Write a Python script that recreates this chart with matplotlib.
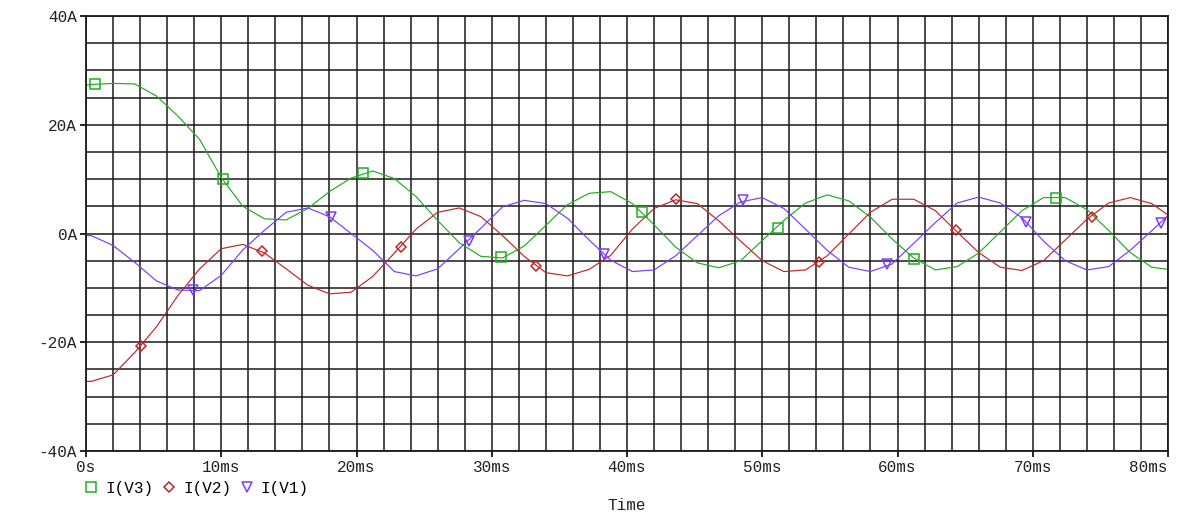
import matplotlib
matplotlib.use("Agg")
import matplotlib.pyplot as plt
from matplotlib.lines import Line2D
from matplotlib.ticker import MultipleLocator

# Data (time in ms, current in A)
time_ms = [0, 0.4, 2.0, 3.6, 5.2, 6.8, 8.4, 10.0, 11.6, 13.2, 14.8, 16.4, 18.0, 19.6,
           21.2, 22.8, 24.4, 26.0, 27.6, 29.2, 30.8, 32.4, 34.0, 35.6, 37.2, 38.8,
           40.4, 42.0, 43.6, 45.2, 46.8, 48.4, 50.0, 51.6, 53.2, 54.8, 56.4, 58.0,
           59.6, 61.2, 62.8, 64.4, 66.0, 67.6, 69.2, 70.8, 72.4, 74.0, 75.6, 77.2,
           78.8, 80.0]

i_v3 = [27.3, 27.4, 27.6, 27.5, 25.3, 21.6, 17.3, 10.3, 5.0, 2.7, 2.5, 4.6, 7.7, 10.2,
        11.5, 10.1, 6.8, 2.4, -1.7, -4.2, -4.5, -2.3, 1.5, 5.3, 7.4, 7.7,
        5.5, 1.6, -2.5, -5.4, -6.3, -5.0, -1.3, 2.4, 5.6, 7.1, 6.0, 3.0,
        -1.0, -4.5, -6.7, -6.1, -3.6, 0.3, 4.2, 6.6, 6.6, 4.4, 0.6, -3.5,
        -6.2, -6.6]

i_v2 = [-27.2, -27.2, -26.0, -21.9, -17.2, -11.4, -6.5, -2.8, -2.0, -3.6, -6.5, -9.5, -11.1, -10.8,
        -7.9, -3.6, 0.8, 3.9, 4.7, 3.1, -0.4, -4.2, -7.2, -7.8, -6.6, -4.0,
        0.8, 4.6, 6.2, 5.5, 2.3, -1.4, -5.0, -7.0, -6.7, -4.1, -0.1, 3.9,
        6.3, 6.3, 4.2, 0.3, -3.5, -6.2, -6.8, -5.0, -1.2, 2.6, 5.6, 6.6,
        5.5, 3.4]

i_v1 = [-0.4, -0.4, -2.2, -5.3, -8.7, -10.4, -10.5, -7.7, -3.0, 0.6, 3.9, 4.7, 3.1, 0.0,
        -3.1, -7.0, -7.8, -6.5, -2.8, 1.0, 4.9, 6.1, 5.5, 2.8, -1.2, -4.9,
        -7.0, -6.7, -4.1, -0.4, 3.3, 5.8, 6.6, 4.6, 0.8, -3.1, -6.2, -7.0,
        -5.6, -1.8, 2.0, 5.6, 6.7, 5.6, 2.9, -1.4, -5.0, -6.7, -6.1, -3.1,
        0.5, 3.3]

# Marker points
mark_t_v3 = [0.7, 10.1, 20.5, 30.7, 41.1, 51.2, 61.2, 71.7]
mark_v3 = [27.5, 10.0, 11.1, -4.4, 3.9, 1.1, -4.6, 6.6]
mark_t_v2 = [4.1, 13.0, 23.3, 33.3, 43.6, 54.2, 64.3, 74.4]
mark_v2 = [-20.7, -3.3, -2.4, -5.9, 6.3, -5.2, 0.7, 3.0]
mark_t_v1 = [7.9, 18.1, 28.3, 38.3, 48.6, 59.2, 69.5, 79.5]
mark_v1 = [-10.3, 3.1, -1.4, -3.7, 6.1, -5.7, 2.2, 2.0]

x_ticks = [0, 10, 20, 30, 40, 50, 60, 70, 80]
x_labels = ["0s", "10ms", "20ms", "30ms", "40ms", "50ms", "60ms", "70ms", "80ms"]
y_ticks = [-40, -20, 0, 20, 40]
y_labels = ["-40A", "-20A", "0A", "20A", "40A"]

green = "#1fae1f"
red = "#c02626"
blue = "#7a3cff"
font = ["Liberation Mono", "DejaVu Sans Mono"]
fsize = 11.5

fig = plt.figure(figsize=(11.77, 5.14), dpi=100)
ax = fig.add_axes([86 / 1177, 1 - 451 / 514, 1082 / 1177, 435 / 514])

ax.plot(time_ms, i_v3, color=green, lw=0.85)
ax.plot(time_ms, i_v2, color=red, lw=0.85)
ax.plot(time_ms, i_v1, color=blue, lw=0.85)

ax.plot(mark_t_v3, mark_v3, ls="none", marker="s", ms=7, mfc="none", mec=green, mew=1.1)
ax.plot(mark_t_v2, mark_v2, ls="none", marker="D", ms=5, mfc="none", mec=red, mew=1.1)
ax.plot(mark_t_v1, mark_v1, ls="none", marker="v", ms=7, mfc="none", mec=blue, mew=1.1)

ax.set_xlim(0, 80)
ax.set_ylim(-40, 40)
ax.set_xticks(x_ticks)
ax.set_yticks(y_ticks)
xt = ax.set_xticklabels(x_labels, family=font, color="#222222")
ax.set_yticklabels(y_labels, family=font, color="#222222")
xt[-1].set_ha("right")
xt[-1].set_x(80.1)
ax.xaxis.set_minor_locator(MultipleLocator(2))
ax.yaxis.set_minor_locator(MultipleLocator(5))

ax.grid(True, which="both", color="#1a1a1a", linewidth=1.1)
ax.set_axisbelow(True)
ax.tick_params(which="major", direction="out", length=4.5, width=1.2, color="black",
               labelsize=fsize, pad=2)
ax.tick_params(which="minor", length=0)
for s in ax.spines.values():
    s.set_color("#1a1a1a")
    s.set_linewidth(1.3)

fig.text(627 / 1177, 1 - 506 / 514, "Time", family=font, fontsize=fsize,
         color="#222222", ha="center", va="center")

handles = [
    Line2D([], [], ls="none", marker="s", ms=7, mfc="none", mec=green, mew=1.1),
    Line2D([], [], ls="none", marker="D", ms=5, mfc="none", mec=red, mew=1.1),
    Line2D([], [], ls="none", marker="v", ms=7, mfc="none", mec=blue, mew=1.1),
]
fig.legend(handles, ["I(V3)", "I(V2)", "I(V1)"], loc="center left",
           bbox_to_anchor=(87 / 1177, 1 - 488 / 514), ncol=3, frameon=False,
           borderpad=0, borderaxespad=0, handlelength=0.5, handletextpad=0.62,
           columnspacing=0.75, prop={"family": font, "size": fsize})

fig.savefig("out.png", dpi=100)
